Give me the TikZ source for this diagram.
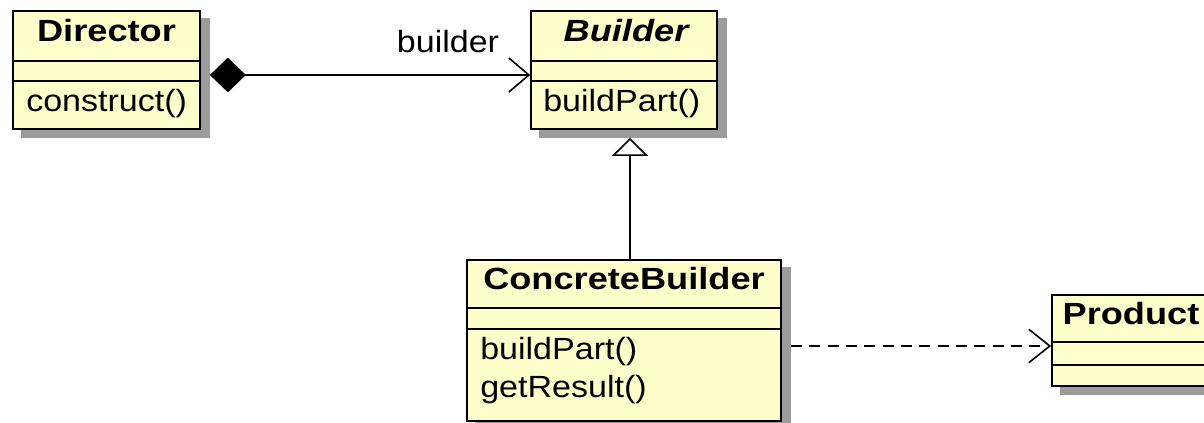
\documentclass[tikz,border=0pt]{standalone}
\usepackage{fontspec}
\setmainfont{Liberation Sans}[FakeStretch=1.11,BoldFeatures={FakeStretch=1.18},BoldItalicFeatures={FakeStretch=1.18}]
\usepackage{tikz}
\usetikzlibrary{arrows.meta}
\pgfdeclarelayer{background}
\pgfsetlayers{background,main}
\definecolor{classfill}{RGB}{255,255,204}
\definecolor{classshadow}{RGB}{155,155,155}
\tikzset{
  classbox/.style={draw, line width=1.3pt, fill=classfill, inner sep=0pt},
  classline/.style={line width=1.3pt},
  classname/.style={font=\fontsize{23}{27}\selectfont\bfseries, anchor=base, inner sep=0pt},
  member/.style={font=\fontsize{23}{27}\selectfont, anchor=base west, inner sep=0pt},
  link/.style={line width=1.2pt},
}
\begin{document}
\begin{tikzpicture}[x=0.75pt,y=0.75pt,yscale=-1,xscale=1]
\useasboundingbox (0,0) rectangle (1204,423);
\clip (0,0) rectangle (1204,423);

% Class boxes
\node[classbox, minimum width={187*0.75pt}, minimum height={118*0.75pt}] (director) at (106.5,70) {};
\node[classbox, minimum width={186*0.75pt}, minimum height={118*0.75pt}] (builder) at (624,70) {};
\node[classbox, minimum width={314*0.75pt}, minimum height={161*0.75pt}] (concrete) at (624,340.5) {};
\node[classbox, minimum width={158*0.75pt}, minimum height={91*0.75pt}] (product) at (1131,340.5) {};

% Shadows
\begin{pgfonlayer}{background}
\foreach \cls in {director,builder,concrete,product}
  \fill[classshadow] ([shift={(9,8)}]\cls.north west) rectangle ([shift={(9,8)}]\cls.south east);
\end{pgfonlayer}

% Compartments
\draw[classline] (director.west |- 0,61) -- (director.east |- 0,61);
\draw[classline] (director.west |- 0,81) -- (director.east |- 0,81);
\draw[classline] (builder.west |- 0,61) -- (builder.east |- 0,61);
\draw[classline] (builder.west |- 0,81) -- (builder.east |- 0,81);
\draw[classline] (concrete.west |- 0,308) -- (concrete.east |- 0,308);
\draw[classline] (concrete.west |- 0,329) -- (concrete.east |- 0,329);
\draw[classline] (product.west |- 0,342) -- (product.east |- 0,342);
\draw[classline] (product.west |- 0,365) -- (product.east |- 0,365);

% Names and operations
\node[classname] (directorname) at (106.5,42) {Director};
\node[member] (construct) at (26,112) {construct()};
\node[classname, font=\fontsize{23}{27}\selectfont\bfseries\itshape] (buildername) at (626,42) {Builder};
\node[member] (buildpart) at (543,112) {buildPart()};
\node[classname] (concretename) at (624,290) {ConcreteBuilder};
\node[member] (concretepart) at (480,360) {buildPart()};
\node[member] (getresult) at (480,398) {getResult()};
\node[classname] (productname) at (1131,325) {Product};

% Relations
\draw[link, {Diamond[length=27pt,width=26pt]}-{Straight Barb[length=15pt,width=25.5pt]}] ([shift={(9,5)}]director.east) -- ([shift={(0,5)}]builder.west);
\node[member, anchor=base] (rolename) at (448,53) {builder};
\draw[link, -{Triangle[open,length=13.5pt,width=27pt]}] ([shift={(6,0)}]concrete.north) -- ([shift={(6,8)}]builder.south);
\draw[link, dash pattern=on 8.25pt off 5.5pt, -{Straight Barb[length=15.75pt,width=25pt]}] ([shift={(9,5.5)}]concrete.east) -- ([shift={(0,5.5)}]product.west);

\end{tikzpicture}
\end{document}
